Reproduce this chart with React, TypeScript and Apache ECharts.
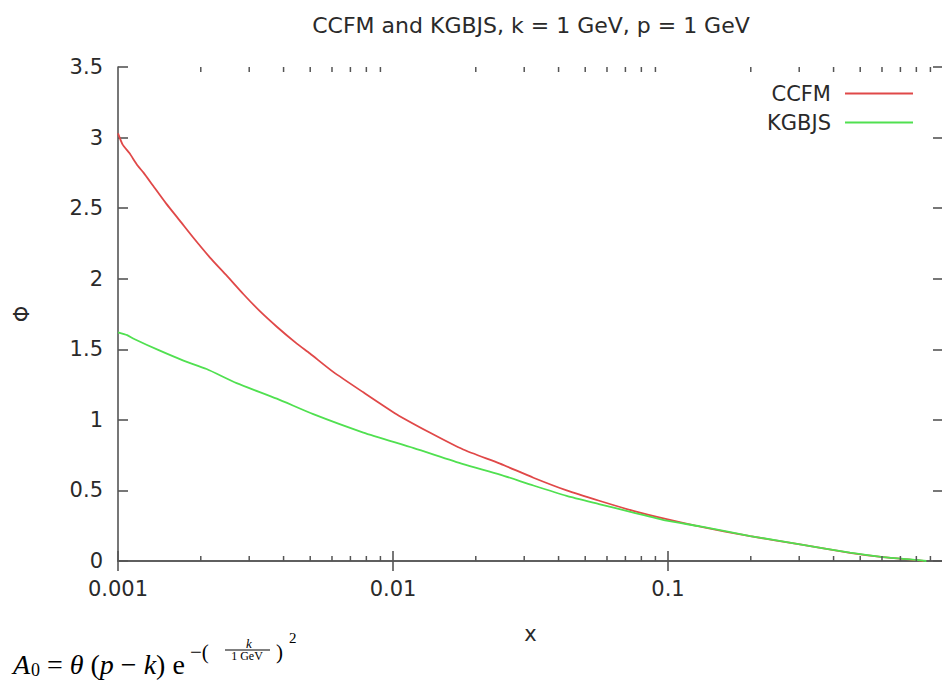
import React, { useEffect, useRef } from "react";
import * as echarts from "echarts";

const titleText = "CCFM and KGBJS, k = 1 GeV, p = 1 GeV";
const seriesNames = ["CCFM", "KGBJS"];

const ccfmX = [0.001, 0.00104, 0.0011, 0.00118, 0.00124, 0.00134, 0.0015, 0.00168, 0.00188, 0.00216, 0.00249, 0.00286, 0.00328, 0.00378, 0.00447, 0.00499, 0.00606, 0.0078, 0.0103, 0.0136, 0.018, 0.0245, 0.0324, 0.0428, 0.0566, 0.0748, 0.0989, 0.131, 0.199, 0.302, 0.459, 0.605, 0.8, 0.85];
const ccfmY = [3.03, 2.95, 2.89, 2.8, 2.75, 2.66, 2.53, 2.41, 2.29, 2.15, 2.02, 1.89, 1.77, 1.66, 1.54, 1.47, 1.34, 1.195, 1.04, 0.91, 0.79, 0.69, 0.59, 0.5, 0.425, 0.355, 0.296, 0.243, 0.176, 0.117, 0.058, 0.027, 0.006, 0.0];

const kgbjsX = [0.001, 0.00108, 0.00114, 0.00142, 0.00173, 0.0021, 0.0027, 0.00378, 0.00513, 0.0078, 0.0119, 0.018, 0.0245, 0.0324, 0.0428, 0.0566, 0.0748, 0.0989, 0.131, 0.199, 0.302, 0.459, 0.605, 0.8, 0.87];
const kgbjsY = [1.62, 1.6, 1.575, 1.49, 1.42, 1.36, 1.26, 1.15, 1.04, 0.91, 0.8, 0.686, 0.612, 0.535, 0.462, 0.402, 0.343, 0.286, 0.245, 0.177, 0.118, 0.059, 0.028, 0.007, 0.0];

const minorTickValues = [0.002, 0.003, 0.004, 0.005, 0.006, 0.007, 0.008, 0.009, 0.02, 0.03, 0.04, 0.05, 0.06, 0.07, 0.08, 0.09, 0.2, 0.3, 0.4, 0.5, 0.6, 0.7, 0.8, 0.9];

const X_MIN = 0.001;
const X_MAX = 1;
const Y_MIN = 0;
const Y_MAX = 3.5;
const Y_STEP = 0.5;

const FONT = "DejaVu Sans";
const TEXT_COLOR = "#2a2a2a";
const AXIS_COLOR = "#555";
const RED = "#e04848";
const GREEN = "#50e050";

function zip(xs: number[], ys: number[]) {
  return xs.map((x, i) => [x, ys[i]]);
}

export default function App() {
  const ref = useRef<HTMLDivElement>(null);
  useEffect(() => {
    if (!ref.current) return;
    const chart = echarts.init(ref.current, undefined, { renderer: "svg" });
    const axisLine = { show: true, lineStyle: { color: AXIS_COLOR, width: 1.6 } };
    const axisTick = { show: true, inside: true, length: 10, lineStyle: { color: AXIS_COLOR, width: 1.6 } };
    const serif = "Liberation Serif";
    chart.setOption({
      animation: false,
      backgroundColor: "#fff",
      title: {
        text: titleText,
        left: 526,
        textAlign: "center",
        top: 9,
        textStyle: { fontFamily: FONT, fontSize: 22, fontWeight: "normal", color: TEXT_COLOR },
      },
      legend: {
        data: seriesNames,
        orient: "vertical",
        right: 24,
        top: 78,
        align: "right",
        itemWidth: 68,
        itemHeight: 2,
        itemGap: 8,
        icon: "rect",
        textStyle: { fontFamily: FONT, fontSize: 21, color: TEXT_COLOR, padding: [0, 9, 0, 0] },
      },
      grid: { left: 118, top: 67, width: 825, height: 494, containLabel: false, outerBoundsMode: "none" },
      xAxis: [
        {
          type: "log",
          logBase: 10,
          min: X_MIN,
          max: X_MAX,
          position: "bottom",
          name: "x",
          nameLocation: "middle",
          nameGap: 62,
          nameTextStyle: { fontFamily: FONT, fontSize: 21, color: TEXT_COLOR },
          axisLine,
          axisTick,
          splitLine: { show: false },
          axisLabel: {
            fontFamily: FONT,
            fontSize: 21,
            color: TEXT_COLOR,
            margin: 17,
            formatter: (v: number) => (v >= 0.99 ? "" : String(Number(v.toPrecision(3)))),
          },
        },
        {
          type: "log",
          logBase: 10,
          min: X_MIN,
          max: X_MAX,
          position: "top",
          axisLine,
          axisTick,
          splitLine: { show: false },
          axisLabel: { show: false },
        },
      ],
      yAxis: [
        {
          type: "value",
          min: Y_MIN,
          max: Y_MAX,
          interval: Y_STEP,
          position: "left",
          name: "Φ",
          nameLocation: "middle",
          nameRotate: 90,
          nameGap: 86,
          nameTextStyle: { fontFamily: FONT, fontSize: 21, color: TEXT_COLOR },
          axisLine,
          axisTick,
          splitLine: { show: false },
          axisLabel: { fontFamily: FONT, fontSize: 21, color: TEXT_COLOR, margin: 15 },
        },
        {
          type: "value",
          min: Y_MIN,
          max: Y_MAX,
          interval: Y_STEP,
          position: "right",
          axisLine,
          axisTick,
          splitLine: { show: false },
          axisLabel: { show: false },
        },
      ],
      series: [
        {
          name: "CCFM",
          type: "line",
          data: zip(ccfmX, ccfmY),
          showSymbol: false,
          symbol: "none",
          smooth: 0.2,
          color: RED,
          lineStyle: { color: RED, width: 1.8 },
          z: 3,
        },
        {
          name: "KGBJS",
          type: "line",
          data: zip(kgbjsX, kgbjsY),
          showSymbol: false,
          symbol: "none",
          smooth: 0.2,
          color: GREEN,
          lineStyle: { color: GREEN, width: 1.8 },
          z: 4,
        },
        {
          name: "minorTicks",
          type: "custom",
          silent: true,
          data: minorTickValues.map((v) => [v]),
          encode: { x: 0 },
          renderItem: (_params: any, api: any) => {
            const v = api.value(0);
            const b = api.coord([v, Y_MIN]);
            const t = api.coord([v, Y_MAX]);
            const st = { stroke: AXIS_COLOR, lineWidth: 1.5 };
            return {
              type: "group",
              children: [
                { type: "line", shape: { x1: b[0], y1: b[1], x2: b[0], y2: b[1] - 5 }, style: st },
                { type: "line", shape: { x1: t[0], y1: t[1], x2: t[0], y2: t[1] + 5 }, style: st },
              ],
            };
          },
          z: 5,
        },
      ],
      graphic: [
        {
          type: "text",
          x: 13,
          y: 664,
          style: { text: "A", fontFamily: serif, fontStyle: "italic", fontSize: 28, fill: "#000", verticalAlign: "middle" },
        },
        {
          type: "text",
          x: 31,
          y: 670,
          style: { text: "0", fontFamily: serif, fontSize: 18, fill: "#000", verticalAlign: "middle" },
        },
        {
          type: "text",
          x: 47,
          y: 664,
          style: {
            text: "= {it|θ} ({it|p} − {it|k}) e",
            fontFamily: serif,
            fontSize: 28,
            fill: "#000",
            verticalAlign: "middle",
            rich: {
              it: { fontFamily: serif, fontStyle: "italic", fontSize: 28, fill: "#000" },
            },
          },
        },
        {
          type: "text",
          x: 190,
          y: 652,
          style: { text: "−(", fontFamily: serif, fontSize: 21, fill: "#000", verticalAlign: "middle" },
        },
        {
          type: "text",
          x: 249,
          y: 643,
          style: { text: "k", fontFamily: serif, fontStyle: "italic", fontSize: 13, fill: "#000", align: "center", verticalAlign: "middle" },
        },
        {
          type: "line",
          shape: { x1: 225, y1: 650, x2: 270, y2: 650 },
          style: { stroke: "#000", lineWidth: 1 },
        },
        {
          type: "text",
          x: 247,
          y: 656,
          style: { text: "1 GeV", fontFamily: serif, fontSize: 12, fill: "#000", align: "center", verticalAlign: "middle" },
        },
        {
          type: "text",
          x: 276,
          y: 652,
          style: { text: ")", fontFamily: serif, fontSize: 21, fill: "#000", verticalAlign: "middle" },
        },
        {
          type: "text",
          x: 289,
          y: 638,
          style: { text: "2", fontFamily: serif, fontSize: 15, fill: "#000", verticalAlign: "middle" },
        },
      ],
    });
    return () => chart.dispose();
  }, []);
  return <div ref={ref} style={{ position: "absolute", left: 0, top: 0, width: 942, height: 680 }} />;
}
